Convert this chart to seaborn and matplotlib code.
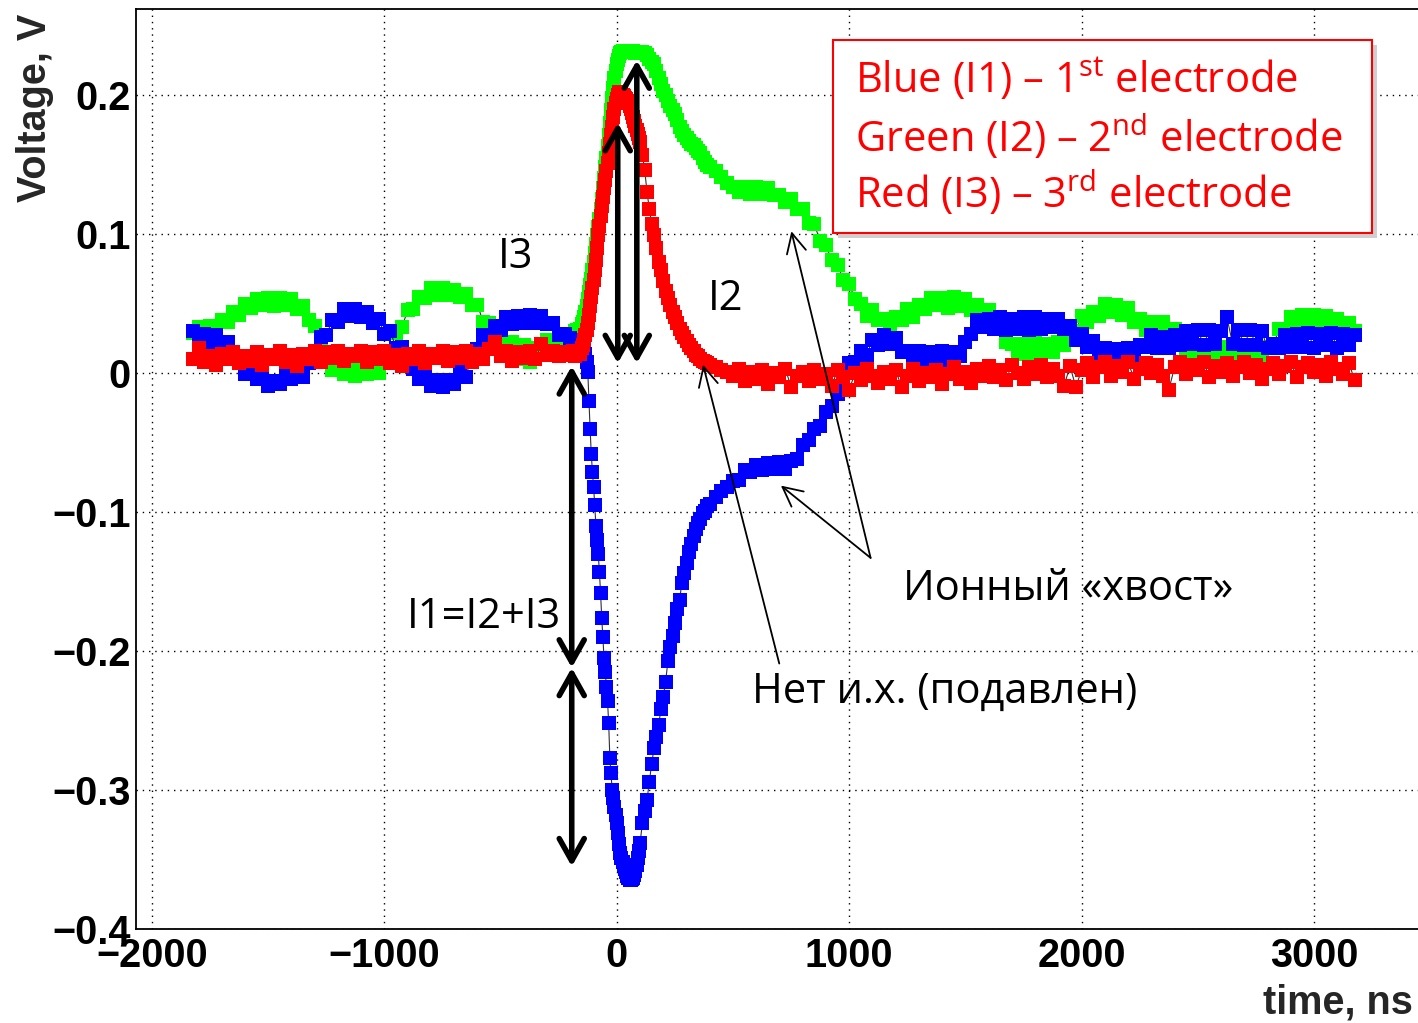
import numpy as np
import pandas as pd
import matplotlib
matplotlib.use("Agg")
import matplotlib.pyplot as plt
import seaborn as sns
from matplotlib.patches import Rectangle

# ---------------- data ----------------
t1 = np.arange(-1825, -224, 25)   # time grid, ns (before the pulse)
t2a = np.arange(-200, -159, 10)   # -200 .. -160
t2b = np.arange(-150, 96, 5)      # -150 .. 95  (fast edges)
t2c = np.arange(100, 391, 10)     # 100 .. 390
t3 = np.arange(400, 3176, 25)     # tail

red1 = [0.010, 0.018, 0.008, 0.012, 0.006, 0.014, 0.010, 0.015, 0.007, 0.012,
        0.009, 0.015, 0.006, 0.013, 0.010, 0.016, 0.008, 0.013, 0.005, 0.014,
        0.010, 0.016, 0.008, 0.015, 0.011, 0.016, 0.009, 0.014, 0.012, 0.016,
        0.008, 0.015, 0.010, 0.016, 0.007, 0.013, 0.005, 0.014, 0.010, 0.016,
        0.007, 0.014, 0.011, 0.016, 0.009, 0.015, 0.011, 0.016, 0.008, 0.014,
        0.010, 0.017, 0.022, 0.012, 0.016, 0.009, 0.015, 0.011, 0.016, 0.010,
        0.021, 0.013, 0.016, 0.012, 0.015]
red2a = [0.013, 0.016, 0.012, 0.015, 0.014]
red2b = [0.018, 0.020, 0.024, 0.027, 0.031, 0.036, 0.042, 0.048, 0.055, 0.061,
         0.067, 0.074, 0.081, 0.090, 0.099, 0.106, 0.113, 0.120, 0.127, 0.133,
         0.139, 0.145, 0.151, 0.158, 0.165, 0.171, 0.177, 0.184, 0.190, 0.194,
         0.197, 0.200, 0.202, 0.202, 0.201, 0.200, 0.199, 0.198, 0.197, 0.196,
         0.194, 0.192, 0.190, 0.187, 0.184, 0.181, 0.178, 0.175, 0.172, 0.169]
red2c = [0.166, 0.157, 0.146, 0.130, 0.118, 0.107, 0.099, 0.090, 0.080, 0.074,
         0.066, 0.059, 0.054, 0.049, 0.044, 0.040, 0.036, 0.032, 0.029, 0.026,
         0.023, 0.020, 0.018, 0.016, 0.013, 0.012, 0.010, 0.009, 0.008, 0.007]
red3 = [0.006, 0.004, 0.002, 0.001, -0.002, 0.003, -0.006, 0.001, -0.004, 0.002,
        -0.008, 0.000, -0.003, 0.003, -0.010, -0.002, 0.001, -0.006, 0.002, -0.004,
        -0.001, -0.009, 0.002, -0.003, -0.012, 0.000, -0.005, 0.003, -0.002, -0.007,
        0.001, -0.004, 0.002, -0.010, -0.002, 0.003, -0.006, 0.000, -0.003, 0.002,
        -0.008, -0.001, 0.004, -0.004, 0.001, -0.007, 0.003, -0.002, 0.005, -0.003,
        0.002, -0.005, 0.006, 0.000, -0.004, 0.004, -0.001, 0.006, -0.003, 0.003,
        -0.002, -0.009, 0.005, -0.010, 0.002, 0.007, -0.003, 0.004, 0.008, -0.002,
        0.005, 0.001, 0.008, -0.004, 0.003, 0.007, 0.000, 0.006, -0.002, -0.012,
        0.004, 0.008, -0.001, 0.006, 0.002, 0.008, -0.003, 0.005, 0.001, 0.007,
        -0.002, 0.004, 0.008, 0.000, 0.006, -0.004, 0.003, 0.007, -0.001, 0.005,
        0.008, -0.003, 0.004, 0.007, 0.001, 0.006, -0.002, 0.008, 0.003, -0.001,
        0.007, -0.005]

green1 = [0.029, 0.033, 0.030, 0.034, 0.032, 0.038, 0.037, 0.044, 0.042, 0.050,
          0.047, 0.053, 0.049, 0.054, 0.048, 0.054, 0.049, 0.053, 0.046, 0.048,
          0.038, 0.034, 0.018, 0.010, 0.002, 0.004, -0.001, 0.003, -0.002, 0.002,
          -0.001, 0.004, 0.000, 0.010, 0.016, 0.029, 0.033, 0.045, 0.046, 0.055,
          0.054, 0.061, 0.056, 0.061, 0.056, 0.060, 0.055, 0.057, 0.049, 0.049,
          0.037, 0.036, 0.025, 0.024, 0.013, 0.022, 0.010, 0.020, 0.008, 0.018,
          0.016, 0.024, 0.021, 0.028, 0.025]
green2a = [0.027, 0.028, 0.030, 0.031, 0.032]
green2b = [0.035, 0.037, 0.040, 0.044, 0.048, 0.053, 0.058, 0.063, 0.068, 0.074,
           0.080, 0.086, 0.093, 0.099, 0.105, 0.111, 0.118, 0.125, 0.133, 0.140,
           0.148, 0.155, 0.163, 0.171, 0.180, 0.189, 0.198, 0.205, 0.212, 0.217,
           0.222, 0.225, 0.228, 0.230, 0.231, 0.232, 0.232, 0.231, 0.231, 0.232,
           0.232, 0.231, 0.231, 0.232, 0.232, 0.231, 0.230, 0.231, 0.231, 0.230]
green2c = [0.230, 0.231, 0.230, 0.229, 0.226, 0.224, 0.222, 0.217, 0.212, 0.208,
           0.203, 0.200, 0.196, 0.192, 0.189, 0.186, 0.182, 0.177, 0.174, 0.171,
           0.169, 0.167, 0.165, 0.164, 0.162, 0.160, 0.158, 0.155, 0.152, 0.150]
green3 = [0.148, 0.145, 0.141, 0.137, 0.134, 0.130, 0.134, 0.129, 0.134, 0.129,
          0.133, 0.128, 0.128, 0.123, 0.125, 0.118, 0.118, 0.108, 0.107, 0.095,
          0.092, 0.081, 0.078, 0.067, 0.064, 0.053, 0.050, 0.041, 0.045, 0.038,
          0.039, 0.032, 0.040, 0.038, 0.046, 0.040, 0.049, 0.046, 0.054, 0.049,
          0.054, 0.047, 0.055, 0.048, 0.053, 0.045, 0.049, 0.040, 0.045, 0.037,
          0.034, 0.022, 0.021, 0.014, 0.021, 0.014, 0.022, 0.013, 0.021, 0.015,
          0.022, 0.020, 0.028, 0.030, 0.041, 0.037, 0.044, 0.041, 0.050, 0.044,
          0.049, 0.042, 0.047, 0.037, 0.039, 0.031, 0.037, 0.030, 0.037, 0.030,
          0.032, 0.020, 0.018, 0.012, 0.019, 0.012, 0.018, 0.013, 0.019, 0.012,
          0.018, 0.013, 0.019, 0.012, 0.018, 0.013, 0.019, 0.020, 0.032, 0.031,
          0.040, 0.035, 0.042, 0.037, 0.042, 0.035, 0.041, 0.034, 0.039, 0.032,
          0.036, 0.030]

blue1 = [0.030, 0.024, 0.028, 0.022, 0.027, 0.021, 0.022, 0.010, 0.007, -0.001,
         0.002, -0.004, -0.002, -0.009, -0.006, -0.008, 0.000, -0.004, 0.001, -0.003,
         0.007, 0.012, 0.026, 0.027, 0.038, 0.037, 0.046, 0.041, 0.046, 0.040,
         0.044, 0.036, 0.039, 0.028, 0.030, 0.018, 0.019, 0.005, 0.003, -0.004,
         0.000, -0.009, -0.005, -0.010, -0.005, -0.008, 0.001, -0.003, 0.012, 0.017,
         0.027, 0.024, 0.034, 0.031, 0.040, 0.035, 0.041, 0.036, 0.042, 0.036,
         0.041, 0.035, 0.036, 0.027, 0.028]
blue2a = [0.025, 0.024, 0.023, 0.022, 0.021]
blue2b = [0.020, 0.019, 0.018, 0.014, 0.008, 0.001, -0.020, -0.040, -0.058, -0.071,
          -0.082, -0.095, -0.110, -0.120, -0.130, -0.143, -0.158, -0.176, -0.190, -0.205,
          -0.215, -0.226, -0.236, -0.252, -0.277, -0.288, -0.300, -0.306, -0.312, -0.318,
          -0.324, -0.331, -0.339, -0.345, -0.349, -0.352, -0.354, -0.357, -0.359, -0.362,
          -0.363, -0.365, -0.365, -0.364, -0.363, -0.361, -0.358, -0.354, -0.349, -0.344]
blue2c = [-0.338, -0.324, -0.315, -0.307, -0.294, -0.281, -0.270, -0.262, -0.253, -0.242,
          -0.233, -0.222, -0.207, -0.197, -0.189, -0.180, -0.170, -0.163, -0.151, -0.144,
          -0.137, -0.129, -0.123, -0.117, -0.112, -0.108, -0.105, -0.101, -0.099, -0.096]
blue3 = [-0.094, -0.089, -0.085, -0.082, -0.078, -0.077, -0.070, -0.071, -0.066, -0.070,
         -0.065, -0.069, -0.064, -0.069, -0.063, -0.062, -0.052, -0.048, -0.040, -0.038,
         -0.028, -0.024, -0.015, -0.006, 0.007, 0.008, 0.016, 0.013, 0.024, 0.020,
         0.027, 0.021, 0.025, 0.015, 0.016, 0.007, 0.016, 0.008, 0.015, 0.007,
         0.016, 0.008, 0.015, 0.012, 0.022, 0.028, 0.038, 0.033, 0.039, 0.032,
         0.040, 0.031, 0.039, 0.032, 0.040, 0.031, 0.040, 0.032, 0.039, 0.033,
         0.039, 0.032, 0.034, 0.024, 0.028, 0.019, 0.023, 0.014, 0.018, 0.010,
         0.017, 0.010, 0.018, 0.011, 0.020, 0.019, 0.027, 0.018, 0.026, 0.018,
         0.027, 0.020, 0.030, 0.021, 0.031, 0.020, 0.031, 0.021, 0.030, 0.040,
         0.021, 0.031, 0.020, 0.031, 0.020, 0.030, 0.018, 0.021, 0.018, 0.027,
         0.019, 0.028, 0.019, 0.029, 0.018, 0.028, 0.020, 0.029, 0.018, 0.028,
         0.020, 0.027]

x_major = [-2000, -1000, 0, 1000, 2000, 3000]
x_labels = ["\u22122000", "\u22121000", "0", "1000", "2000", "3000"]
y_major = [-0.4, -0.3, -0.2, -0.1, 0.0, 0.1, 0.2]
y_labels = ["\u22120.4", "\u22120.3", "\u22120.2", "\u22120.1", "0", "0.1", "0.2"]

legend_lines = [r"Blue (I1) – 1$^{\mathrm{st}}$ electrode",
                r"Green (I2) – 2$^{\mathrm{nd}}$ electrode",
                r"Red (I3) – 3$^{\mathrm{rd}}$ electrode"]


def build(segs):
    ts, vs = [], []
    for t, v in segs:
        n = min(len(t), len(v))
        ts.append(np.asarray(t[:n], float))
        vs.append(np.asarray(v[:n], float))
    return np.concatenate(ts), np.concatenate(vs)


series = {
    "I2": build([(t1, green1), (t2a, green2a), (t2b, green2b), (t2c, green2c), (t3, green3)]),
    "I1": build([(t1, blue1), (t2a, blue2a), (t2b, blue2b), (t2c, blue2c), (t3, blue3)]),
    "I3": build([(t1, red1), (t2a, red2a), (t2b, red2b), (t2c, red2c), (t3, red3)]),
}
colors = {"I1": "#0000ff", "I2": "#00ff00", "I3": "#ff0000"}

# ---------------- style ----------------
sns.set_style("white")
plt.rcParams["font.family"] = ["Liberation Sans", "DejaVu Sans"]
plt.rcParams["mathtext.fontset"] = "custom"
plt.rcParams["mathtext.rm"] = "Open Sans"
plt.rcParams["mathtext.it"] = "Open Sans:italic"
plt.rcParams["mathtext.bf"] = "Open Sans:bold"
ANN = ["Open Sans", "DejaVu Sans"]
BOLD = ["Liberation Sans", "DejaVu Sans"]

W, H = 1418, 1023
fig = plt.figure(figsize=(W / 100, H / 100), dpi=100)
fig.patch.set_facecolor("white")
ax = fig.add_axes([136 / W, 1 - 929 / H, (W - 136) / W, (929 - 9) / H])
ax.set_facecolor("white")

for name in ["I2", "I1", "I3"]:
    tt, vv = series[name]
    df = pd.DataFrame({"time": tt, "voltage": vv})
    sns.lineplot(data=df, x="time", y="voltage", ax=ax, color="#303030",
                 linewidth=0.8, marker="s", markersize=9.5,
                 markerfacecolor=colors[name], markeredgecolor=colors[name],
                 markeredgewidth=0, estimator=None, sort=False, errorbar=None,
                 zorder=3)

ax.set_xlim(-2069, 3447.5)
ax.set_ylim(-0.4, 0.2619)
ax.set_xlabel("")
ax.set_ylabel("")

ax.set_xticks(x_major)
ax.set_xticklabels(x_labels)
ax.set_xticks(np.arange(-2000, 3401, 200), minor=True)
ax.set_yticks(y_major)
ax.set_yticklabels(y_labels)
ax.set_yticks(np.arange(-0.4, 0.2601, 0.02), minor=True)
ax.tick_params(which="both", direction="in", top=False, right=False,
               width=1.1, color="black", labelsize=28.5, labelcolor="black")
ax.tick_params(axis="x", which="major", length=19.5, pad=6)
ax.tick_params(axis="x", which="minor", length=10)
ax.tick_params(axis="y", which="major", length=29.5, pad=4)
ax.tick_params(axis="y", which="minor", length=14.5)
for lab in ax.get_xticklabels() + ax.get_yticklabels():
    lab.set_fontweight("bold")
    lab.set_family(BOLD)

ax.set_axisbelow(True)
ax.grid(True, which="major", color="black", linestyle=(0, (1, 3.5)), linewidth=1.0)
for s in ["left", "bottom", "top"]:
    ax.spines[s].set_visible(True)
    ax.spines[s].set_color("black")
    ax.spines[s].set_linewidth(1.3)
ax.spines["right"].set_visible(False)

# axis titles (ROOT style, right/top aligned)
fig.text(46 / W, 1 - 14 / H, "Voltage, V", rotation=90, rotation_mode="anchor",
         ha="right", va="baseline", fontsize=28.5, fontweight="bold", family=BOLD)
fig.text(1413 / W, 1 - 1013 / H, "time, ns", ha="right", va="baseline",
         fontsize=28.5, fontweight="bold", family=BOLD)

# legend box with shadow
ax.add_patch(Rectangle((929 + 22, 0.1007 - 0.0036), 2321, 0.1389,
                       facecolor="#cfcfcf", edgecolor="none", zorder=5))
ax.add_patch(Rectangle((929, 0.1007), 2321, 0.1389, facecolor="white",
                       edgecolor="#ff0000", linewidth=1.5, zorder=6))
for txt, yb in zip(legend_lines, [0.2014, 0.159, 0.1187]):
    ax.text(1023, yb, txt, color="#ff0000", fontsize=30, family=ANN,
            ha="left", va="baseline", zorder=7)

# thick double arrows
thick = dict(arrowstyle="<->,head_length=0.8,head_width=0.45", lw=4,
             color="black", shrinkA=0, shrinkB=0, mutation_scale=20)
for (xa, ya), (xb, yb) in [((4, 0.180), (4, 0.007)),
                           ((86, 0.225), (86, 0.007)),
                           ((-194, 0.005), (-194, -0.212)),
                           ((-194, -0.212), (-194, -0.355))]:
    ax.annotate("", xy=(xa, ya), xytext=(xb, yb), arrowprops=thick, zorder=8)

# thin pointer arrows
thin = dict(arrowstyle="->,head_length=0.7,head_width=0.35", lw=1.3,
            color="black", shrinkA=0, shrinkB=0, mutation_scale=20)
ax.annotate("", xy=(371, 0.006), xytext=(699, -0.209), arrowprops=thin, zorder=8)
ax.annotate("", xy=(751, 0.102), xytext=(1092, -0.133), arrowprops=thin, zorder=8)
ax.annotate("", xy=(706, -0.081), xytext=(1092, -0.133), arrowprops=thin, zorder=8)

# annotation labels
for x0, y0, s in [(-512, 0.0755, "I3"), (391, 0.0453, "I2"),
                  (-903, -0.1835, "I1=I2+I3"),
                  (1230, -0.1633, "Ионный «хвост»"),
                  (580, -0.2374, "Нет и.х. (подавлен)")]:
    ax.text(x0, y0, s, fontsize=30, family=ANN, color="black",
            ha="left", va="baseline", zorder=9)

fig.savefig("out.png", dpi=100, facecolor="white")
